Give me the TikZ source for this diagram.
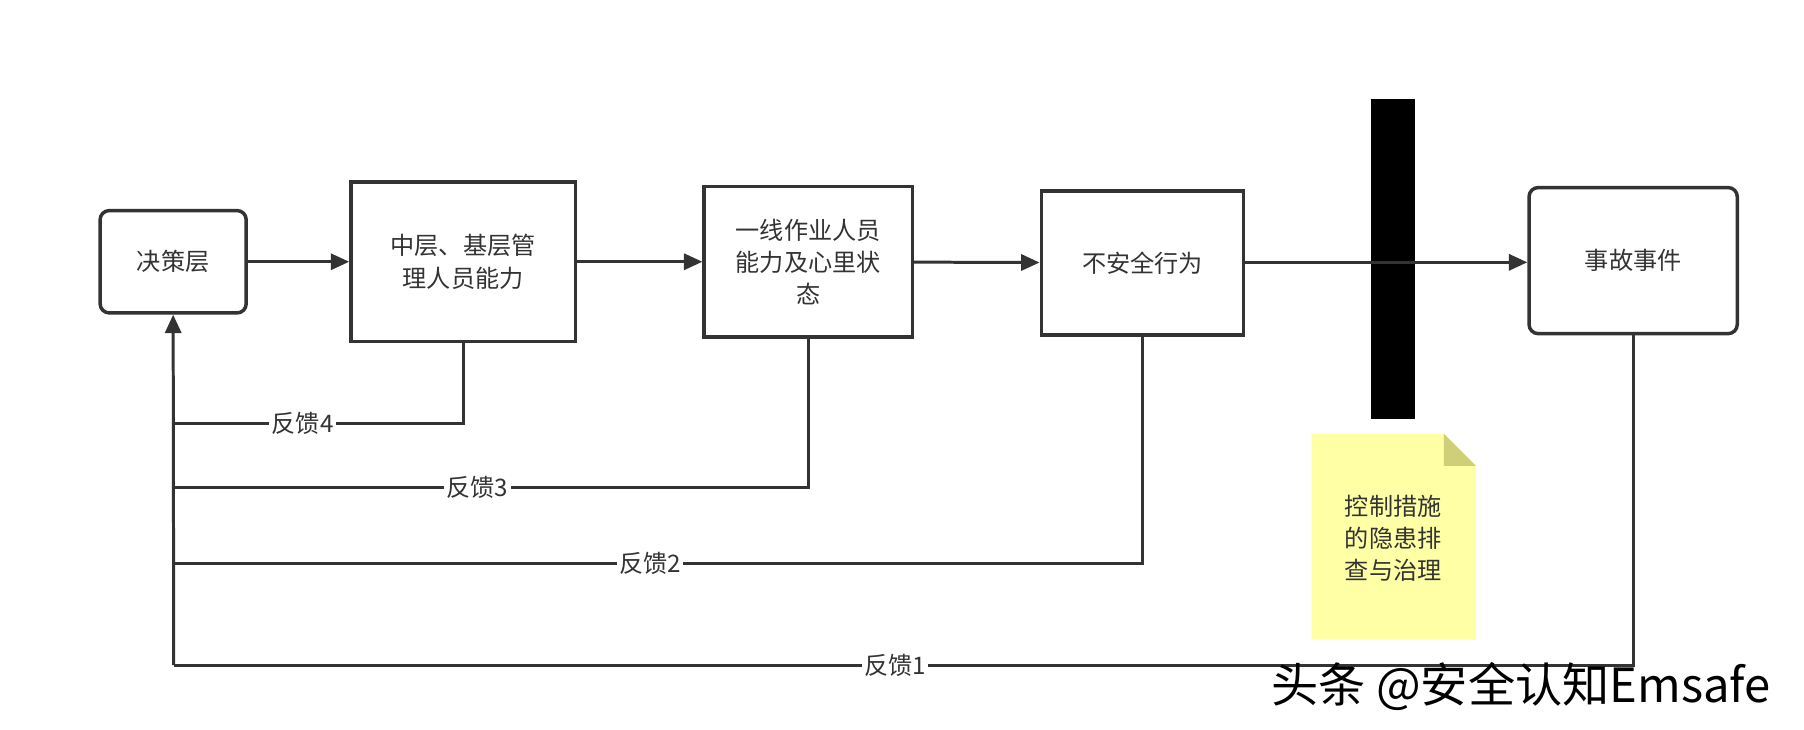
\documentclass[tikz,border=0pt]{standalone}
\usepackage{fontspec}
\setmainfont{Noto Sans CJK SC}
\usetikzlibrary{arrows.meta}
\definecolor{linegray}{HTML}{333333}
\definecolor{notefill}{HTML}{FFFFA6}
\definecolor{notefold}{HTML}{CFCF7A}
\tikzset{
    box/.style={draw=linegray, line width=1.5pt, fill=white, align=center, font=\fontsize{10.5}{14}\selectfont, text=linegray},
    flow/.style={draw=linegray, line width=1.3pt, -{Triangle[length=8pt, width=7pt]}},
    fb/.style={draw=linegray, line width=1.3pt},
    fblabel/.style={fill=white, inner sep=1pt, font=\fontsize{10.5}{12}\selectfont, text=linegray},
}
\begin{document}
\begin{tikzpicture}[x=0.5pt, y=-0.5pt]
    \useasboundingbox (0, 0) rectangle (1568, 634);
    % 方框
    \node [box, rounded corners=4pt, minimum width=63.5pt, minimum height=44.5pt] (dec) at (150.5, 227.5) {决策层};
    \node [box, minimum width=97.5pt, minimum height=69.5pt] (mid) at (402.5, 227.5) {中层、基层管\\理人员能力};
    \node [box, minimum width=90.5pt, minimum height=65.5pt] (front) at (702.5, 227.5) {一线作业人员\\能力及心里状\\态};
    \node [box, minimum width=88pt, minimum height=62.5pt] (unsafe) at (993, 228.5) {不安全行为};
    \node [box, rounded corners=4pt, minimum width=90.5pt, minimum height=63.5pt] (acc) at (1419.5, 226.5) {事故事件};
    % 主线
    \draw [flow] (dec) -- (mid);
    \draw [flow] (mid) -- (front);
    \draw [flow] (front) -- (unsafe);
    \draw [flow] (unsafe.east |- 0, 228) -- (acc.west |- 0, 228);
    % 屏障
    \fill [black] (1192, 86) rectangle (1230, 364);
    \draw [linegray, line width=1.3pt] (1192, 228) -- (1230, 228);
    % 便签
    \fill [notefill] (1140, 377) -- (1255, 377) -- (1283, 405) -- (1283, 556) -- (1140, 556) -- cycle;
    \fill [notefold] (1255, 377) -- (1283, 405) -- (1255, 405) -- cycle;
    \node [align=center, font=\fontsize{10.5}{14}\selectfont, text=linegray] (note) at (1211, 468) {控制措施\\的隐患排\\查与治理};
    % 反馈
    \coordinate (fb4) at (151, 368);
    \coordinate (fb3) at (151, 424);
    \coordinate (fb2) at (151, 490);
    \coordinate (fb1) at (151, 578);
    \draw [fb] (mid.south) |- (fb4);
    \draw [fb] (front.south) |- (fb3);
    \draw [fb] (unsafe.south) |- (fb2);
    \draw [fb] (acc.south) |- (fb1);
    \draw [flow] (fb1) -- (dec.south);
    \node [fblabel] at (263, 368) {反馈4};
    \node [fblabel] at (415, 424) {反馈3};
    \node [fblabel] at (565, 490) {反馈2};
    \node [fblabel] at (778, 578) {反馈1};
    % 水印
    \node [anchor=west, font=\fontsize{20.5}{22}\selectfont, text=black] (mark) at (1098, 597) {头条 @安全认知Emsafe};
\end{tikzpicture}
\end{document}
